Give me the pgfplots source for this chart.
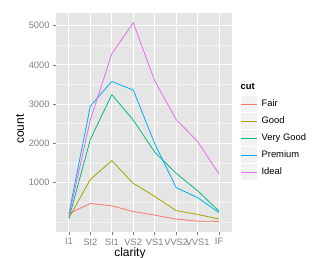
\documentclass[border=0pt]{standalone}
\usepackage{fontspec}
\setmainfont{Liberation Sans}
\usepackage{pgfplots}
\pgfplotsset{compat=1.18}
\definecolor{panelbg}{HTML}{E5E5E5}
\definecolor{minorgrid}{HTML}{F2F2F2}
\definecolor{keybg}{HTML}{F2F2F2}
\definecolor{ticklab}{HTML}{7F7F7F}
\definecolor{cFair}{HTML}{F8766D}
\definecolor{cGood}{HTML}{A3A500}
\definecolor{cVG}{HTML}{00BF7D}
\definecolor{cPrem}{HTML}{00B0F6}
\definecolor{cIdeal}{HTML}{E76BF3}
\pgfplotsset{keyimg/.style={legend image code/.code={
    \path[fill=keybg, draw=none] (0bp,-7.8bp) rectangle (16bp,7.8bp);
    \draw[#1, line width=1.4bp] (0bp,0bp) -- (16bp,0bp);}}}
\begin{document}
\begin{tikzpicture}
\useasboundingbox (0,0) rectangle (319bp,258bp);
\begin{axis}[
  at={(56bp,26bp)}, anchor=south west,
  scale only axis, width=176bp, height=219bp,
  xmin=0.4, xmax=8.6, ymin=-260, ymax=5320,
  xtick={1,...,8},
  xticklabels={I1,SI2,SI1,VS2,VS1,VVS2,VVS1,IF},
  ytick={1000,2000,3000,4000,5000},
  minor ytick={0,500,1500,2500,3500,4500},
  axis background/.style={fill=panelbg},
  axis line style={draw=none},
  xmajorgrids, ymajorgrids, yminorgrids,
  major grid style={white, line width=0.9bp},
  minor grid style={minorgrid, line width=0.5bp},
  tick align=outside, major tick length=3bp, minor tick length=0pt,
  tick style={ticklab, line width=0.5bp},
  xtick pos=bottom, ytick pos=left,
  ticklabel style={font=\fontsize{9.3bp}{11bp}\selectfont, text=ticklab},
  /pgf/number format/assume math mode=true,
  scaled y ticks=false,
  yticklabel style={/pgf/number format/1000 sep={}},
  xlabel={clarity}, ylabel={count},
  label style={font=\fontsize{12bp}{14bp}\selectfont},
  xlabel style={at={(axis description cs:0.42,-0.096)}, anchor=center},
  ylabel style={at={(axis description cs:-0.2045,0.47)}, anchor=center},
  legend style={at={(axis description cs:1,0.703)}, anchor=north west, xshift=8bp, yshift=-0.5bp,
    draw=none, fill=none, font=\fontsize{9.4bp}{11bp}\selectfont,
    row sep=0pt, inner sep=0pt,
    nodes={minimum height=17bp, inner ysep=0pt, inner xsep=4bp}},
  legend cell align=left,
  every axis plot/.append style={line width=0.8bp, mark=none},
]
\addlegendimage{empty legend}
\addlegendentry{\hspace*{-21bp}\textbf{cut}}
\addlegendimage{keyimg=cFair}
\addlegendentry{Fair}
\addlegendimage{keyimg=cGood}
\addlegendentry{Good}
\addlegendimage{keyimg=cVG}
\addlegendentry{Very Good}
\addlegendimage{keyimg=cPrem}
\addlegendentry{Premium}
\addlegendimage{keyimg=cIdeal}
\addlegendentry{Ideal}
\addplot[color=cFair, forget plot] coordinates {(1,210) (2,466) (3,408) (4,261) (5,170) (6,69) (7,17) (8,9)};
\addplot[color=cGood, forget plot] coordinates {(1,96) (2,1081) (3,1560) (4,978) (5,648) (6,286) (7,186) (8,71)};
\addplot[color=cVG, forget plot] coordinates {(1,84) (2,2100) (3,3240) (4,2591) (5,1775) (6,1235) (7,789) (8,268)};
\addplot[color=cPrem, forget plot] coordinates {(1,205) (2,2949) (3,3575) (4,3357) (5,1989) (6,870) (7,616) (8,230)};
\addplot[color=cIdeal, forget plot] coordinates {(1,146) (2,2598) (3,4282) (4,5071) (5,3589) (6,2606) (7,2047) (8,1212)};
\end{axis}
\end{tikzpicture}
\end{document}
